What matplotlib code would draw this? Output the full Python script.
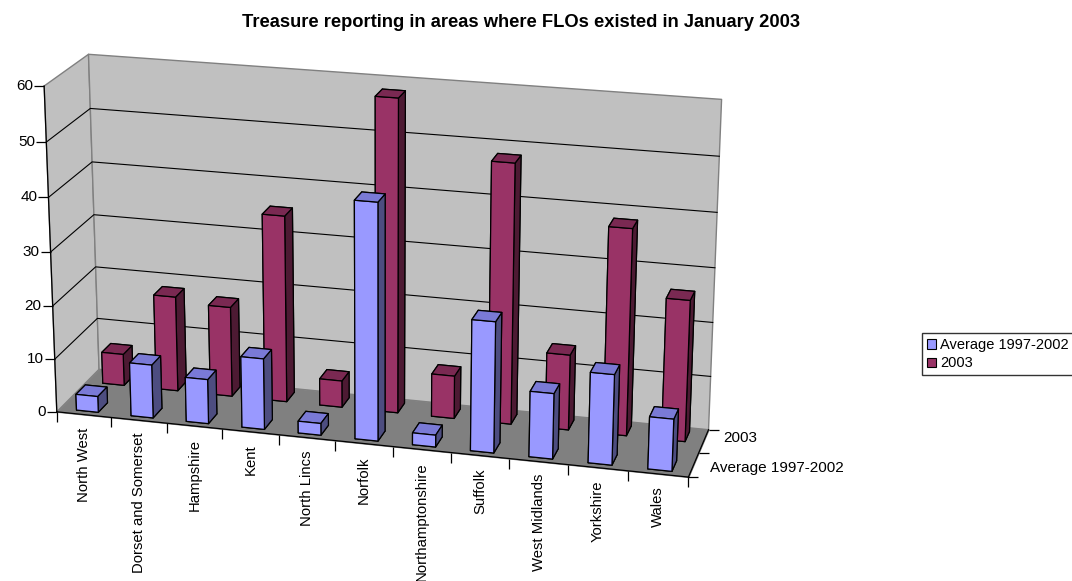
import numpy as np
import matplotlib
matplotlib.use("Agg")
import matplotlib.pyplot as plt
from matplotlib.patches import Patch
from mpl_toolkits.mplot3d import proj3d
from mpl_toolkits.mplot3d.art3d import Poly3DCollection

plt.rcParams['font.family'] = ['Liberation Sans', 'DejaVu Sans']

# ---- data -------------------------------------------------------------
categories = ["North West", "Dorset and Somerset", "Hampshire", "Kent",
              "North Lincs", "Norfolk", "Northamptonshire", "Suffolk",
              "West Midlands", "Yorkshire", "Wales"]
series_names = ["Average 1997-2002", "2003"]
avg_1997_2002 = [3, 10, 8.3, 13.2, 2.2, 43.5, 2.2, 24, 12, 16.5, 9.5]
year_2003 = [6, 18, 17, 35, 5, 58, 8, 48, 14, 38, 26]
value_ticks = [0, 10, 20, 30, 40, 50, 60]
title = "Treasure reporting in areas where FLOs existed in January 2003"

series_values = [avg_1997_2002, year_2003]
# front, top, side shades for each series
series_shades = [("#9999FF", "#7A7AD6", "#4D4D80"),
                 ("#993366", "#7A2952", "#4D1A33")]

n = len(categories)
xmin, xmax = -0.5, n - 0.5
ymin, ymax = -0.3, 1.3
zmax = value_ticks[-1]
bar_w, bar_d = 0.4, 0.35

W, H = 1072, 581
fig = plt.figure(figsize=(W / 100, H / 100), dpi=100)
side_px = 900
cx, cy = 368, 272
ax = fig.add_axes([(cx - side_px / 2) / W, (H - cy - side_px / 2) / H,
                   side_px / W, side_px / H], projection='3d',
                  proj_type='persp', focal_length=0.6)
ax.computed_zorder = False
ax.set_axis_off()
ax.view_init(elev=19, azim=-75)
ax.set_xlim(xmin, xmax)
ax.set_ylim(ymin, ymax)
ax.set_zlim(0, zmax)
ax.set_box_aspect((6.79, 1.3, 3.6), zoom=0.81)

# ---- walls and floor --------------------------------------------------
wall_grey, floor_grey, edge_grey = "#C0C0C0", "#808080", "#808080"
back_wall = [(xmin, ymax, 0), (xmax, ymax, 0), (xmax, ymax, zmax), (xmin, ymax, zmax)]
side_wall = [(xmin, ymin, 0), (xmin, ymax, 0), (xmin, ymax, zmax), (xmin, ymin, zmax)]
floor = [(xmin, ymin, 0), (xmax, ymin, 0), (xmax, ymax, 0), (xmin, ymax, 0)]
ax.add_collection3d(Poly3DCollection([back_wall, side_wall], facecolor=wall_grey,
                                     edgecolor=edge_grey, linewidth=1.0, zorder=0))
ax.add_collection3d(Poly3DCollection([floor], facecolor=floor_grey,
                                     edgecolor=floor_grey, linewidth=0.8, zorder=0.5))

# horizontal gridlines on both walls
for v in value_ticks[1:-1]:
    ax.plot([xmin, xmin, xmax], [ymin, ymax, ymax], [v, v, v],
            color="black", linewidth=0.8, zorder=1)

# ---- bars -------------------------------------------------------------
# back row first, then the front row; left to right within a row
for s in reversed(range(len(series_names))):
    front, top, side = series_shades[s]
    for i, val in enumerate(series_values[s]):
        # face order of bar3d: bottom, top, front, back, left, right
        ax.bar3d(i - bar_w / 2, s - bar_d / 2, 0, bar_w, bar_d, val,
                 color=[side, top, front, side, side, side], shade=False,
                 edgecolor="black", linewidth=0.9, zorder=2 + (1 - s) + 0.01 * i)

# ---- axes lines and ticks --------------------------------------------
ax.plot([xmin, xmin], [ymin, ymin], [0, zmax], color="black", linewidth=0.9, zorder=5)
ax.plot([xmin, xmax], [ymin, ymin], [0, 0], color="black", linewidth=0.9, zorder=5)
ax.plot([xmax, xmax], [ymin, ymax], [0, 0], color="black", linewidth=0.9, zorder=5)

ax.plot([xmin] * len(value_ticks), [ymin] * len(value_ticks), value_ticks,
        linestyle="none", marker=0, markersize=7, markeredgewidth=0.9,
        color="black", zorder=5)
cat_edges = np.arange(n + 1) - 0.5
ax.plot(cat_edges, [ymin] * len(cat_edges), [0] * len(cat_edges),
        linestyle="none", marker=3, markersize=7, markeredgewidth=0.9,
        color="black", zorder=5)
depth_edges = [ymin, (ymin + ymax) / 2, ymax]
ax.plot([xmax] * 3, depth_edges, [0] * 3,
        linestyle="none", marker=1, markersize=7, markeredgewidth=0.9,
        color="black", zorder=5)

ax.set_xlim(xmin, xmax)
ax.set_ylim(ymin, ymax)
ax.set_zlim(0, zmax)

M = ax.get_proj()


def screen(x, y, z):
    px, py, _ = proj3d.proj_transform(x, y, z, M)
    return px, py


label_kw = dict(xycoords="data", textcoords="offset points",
                annotation_clip=False)
for v in value_ticks:
    ax.annotate(str(v), xy=screen(xmin, ymin, v), xytext=(-8, 0), fontsize=11,
                ha="right", va="center", **label_kw)
for i, name in enumerate(categories):
    ax.annotate(name, xy=screen(i, ymin, 0), xytext=(0, -9), rotation=90,
                fontsize=10.7, ha="center", va="top", **label_kw)
for s, name in enumerate(series_names):
    ax.annotate(name, xy=screen(xmax, s, 0), xytext=(13, 0), fontsize=11,
                ha="left", va="center", **label_kw)

# ---- title and legend -------------------------------------------------
fig.text(0.486, 0.962, title, ha="center", va="center",
         fontsize=13.2, fontweight="bold")
handles = [Patch(facecolor=series_shades[s][0], edgecolor="black", linewidth=0.8,
                 label=series_names[s]) for s in range(len(series_names))]
fig.legend(handles=handles, loc="upper left", bbox_to_anchor=(0.860, 0.427),
           frameon=True, fancybox=False, edgecolor="black", fontsize=10.5,
           handlelength=0.6, handleheight=0.6, handletextpad=0.3,
           borderpad=0.35, labelspacing=0.3, borderaxespad=0)

fig.savefig("out.png", dpi=100)
